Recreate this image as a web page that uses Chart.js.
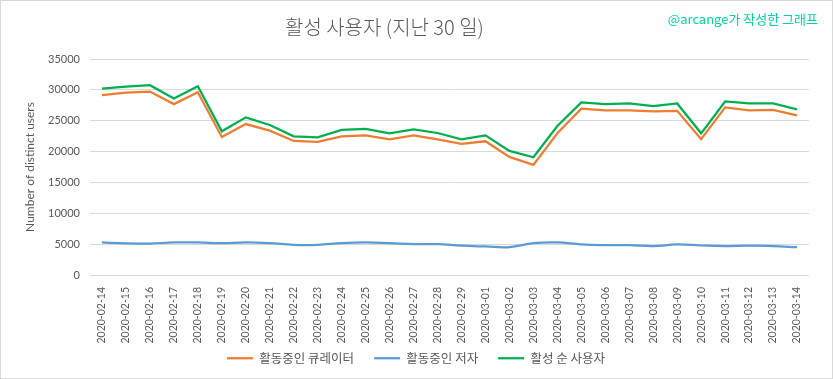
<!DOCTYPE html>
<html><head><meta charset="utf-8">
<script src="https://cdn.jsdelivr.net/npm/chart.js@4"></script>
<style>
html,body{margin:0;padding:0;background:#fff;}
#wrap{position:relative;width:833px;height:379px;box-sizing:border-box;border:1px solid #d9d9d9;background:#fff;}
#c{position:absolute;left:0;top:0;}
#wm{position:absolute;right:14px;top:8px;font-family:"Noto Sans CJK KR","Lato",sans-serif;font-size:13px;color:#00d4a8;white-space:nowrap;}
#ttl{position:absolute;left:284px;top:13px;font-family:"Noto Sans CJK KR",sans-serif;font-weight:300;font-size:20px;color:#595959;white-space:nowrap;line-height:26px;}
</style></head><body>
<div id="wrap"><canvas id="c" width="831" height="377"></canvas><div id="ttl">활성 사용자 (지난 30 일)</div><div id="wm">@arcange가 작성한 그래프</div></div>
<script>
const dates = ["2020-02-14","2020-02-15","2020-02-16","2020-02-17","2020-02-18","2020-02-19","2020-02-20","2020-02-21","2020-02-22","2020-02-23","2020-02-24","2020-02-25","2020-02-26","2020-02-27","2020-02-28","2020-02-29","2020-03-01","2020-03-02","2020-03-03","2020-03-04","2020-03-05","2020-03-06","2020-03-07","2020-03-08","2020-03-09","2020-03-10","2020-03-11","2020-03-12","2020-03-13","2020-03-14"];
const curators = [29140,29570,29730,27690,29620,22370,24460,23390,21720,21560,22470,22630,21990,22630,21990,21240,21670,19140,17850,22960,26940,26670,26670,26510,26610,21990,27150,26670,26770,25860];
const authors = [5270,5110,5100,5270,5270,5160,5270,5160,4890,4890,5160,5270,5160,5000,5000,4750,4620,4510,5160,5270,4950,4840,4840,4680,4950,4780,4680,4780,4680,4510];
const activeUsers = [30215,30540,30750,28600,30590,23280,25540,24300,22470,22310,23500,23660,22960,23600,23010,21990,22630,20100,19080,24140,27960,27690,27800,27370,27800,22960,28120,27800,27800,26830];
const seriesNames = ["활동중인 큐레이터","활동중인 저자","활성 순 사용자"];
const yTicks = {min:0,max:35000,step:5000};

const txt = "#595959";
const legendFix = {
  id: "legendFix",
  beforeLayout(chart) {
    const lg = chart.legend;
    if (lg && !lg._fixed) {
      const fit = lg.fit.bind(lg), draw = lg.draw.bind(lg);
      lg.fit = function () { fit(); this.height = 32; };
      lg.draw = function () { const c = this.ctx; c.save(); c.translate(7, -11); draw(); c.restore(); };
      lg._fixed = true;
    }
  }
};
new Chart(document.getElementById("c"), {
  type: "line",
  data: {
    labels: dates,
    datasets: [
      {label: seriesNames[0], data: curators, borderColor: "#ED7D31", backgroundColor: "#ED7D31", borderWidth: 2.25, pointRadius: 0, tension: 0},
      {label: seriesNames[1], data: authors, borderColor: "#5B9BD5", backgroundColor: "#5B9BD5", borderWidth: 2.25, pointRadius: 0, tension: 0.4},
      {label: seriesNames[2], data: activeUsers, borderColor: "#00B050", backgroundColor: "#00B050", borderWidth: 2.25, pointRadius: 0, tension: 0}
    ]
  },
  plugins: [legendFix],
  options: {
    responsive: false,
    animation: false,
    layout: {padding: {top: 58, right: 23, bottom: 3, left: 8}},
    plugins: {
      title: {display: false},
      legend: {position: "bottom",
        labels: {color: txt, font: {family: "'Noto Sans CJK KR'", size: 12.5}, usePointStyle: true, pointStyle: "line", pointStyleWidth: 26, boxHeight: 8, padding: 20}},
      tooltip: {enabled: false}
    },
    scales: {
      x: {
        offset: true,
        grid: {display: false},
        border: {display: false},
        ticks: {color: txt, font: {family: "Lato", size: 10.5}, maxRotation: 90, minRotation: 90, autoSkip: false, padding: 4},
        afterFit: s => { s.height = 68; }
      },
      y: {
        min: yTicks.min, max: yTicks.max,
        grid: {color: "#d9d9d9", drawTicks: false},
        border: {display: false},
        ticks: {stepSize: yTicks.step, color: txt, font: {family: "Lato", size: 11}, padding: 10, callback: v => String(v)},
        title: {display: true, text: "Number of distinct users", color: txt, font: {family: "Lato", size: 12}, padding: {top: 14, bottom: 0}},
        afterFit: s => { s.width = 81; }
      }
    }
  }
});
</script>
</body></html>
